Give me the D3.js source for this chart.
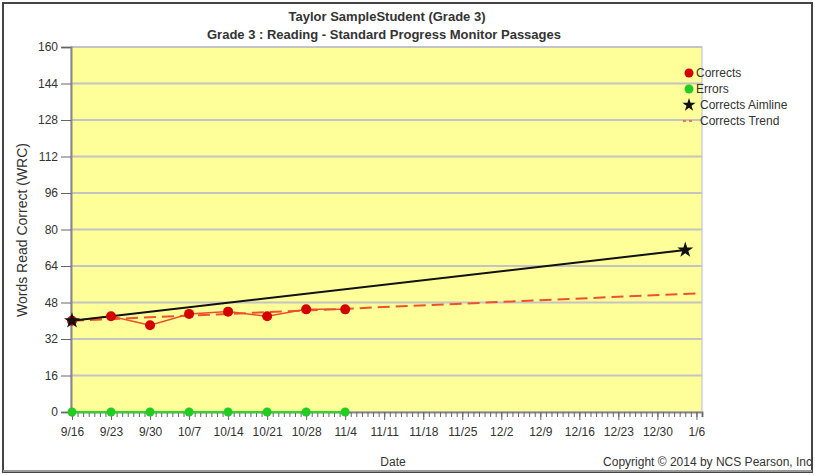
<!DOCTYPE html>
<html>
<head>
<meta charset="utf-8">
<script src="https://cdn.jsdelivr.net/npm/d3@7"></script>
<style>
  body { margin: 0; background: #fff; }
  text { font-family: "Liberation Sans Narrow", "Liberation Sans", Arial, sans-serif; fill: #333; }
</style>
</head>
<body>
<svg width="815" height="475"></svg>
<script>
// chart values
const weeks = ["2013-09-16","2013-09-23","2013-09-30","2013-10-07","2013-10-14","2013-10-21","2013-10-28","2013-11-04"];
const corrects = [40, 42, 38, 43, 44, 42, 45, 45];
const errors = [0, 0, 0, 0, 0, 0, 0, 0];
const aimDates = ["2013-09-16", "2014-01-04"];
const aimValues = [40, 71];
const trendDates = ["2013-09-16", "2014-01-06"];
const trendValues = [40, 52];
const yTicks = [0, 16, 32, 48, 64, 80, 96, 112, 128, 144, 160];
const legendNames = ["Corrects", "Errors", "Corrects Aimline", "Corrects Trend"];

const parse = d3.timeParse("%Y-%m-%d");
const svg = d3.select("svg");

// outer frame
svg.append("rect").attr("x", 3).attr("y", 3).attr("width", 809).attr("height", 469)
  .attr("fill", "none").attr("stroke", "#444").attr("stroke-width", 2);
svg.append("line").attr("x1", 3).attr("x2", 812).attr("y1", 471).attr("y2", 471)
  .attr("stroke", "#999").attr("stroke-width", 2);

const pLeft = 71, pRight = 702, pTop = 47, pBottom = 412;

const x = d3.scaleTime()
  .domain([parse("2013-09-16"), parse("2014-01-07")])
  .range([pLeft + 1, pRight]);
const y = d3.scaleLinear().domain([0, 160]).range([pBottom, pTop]);

// plot background
svg.append("rect").attr("x", pLeft).attr("y", pTop)
  .attr("width", pRight - pLeft).attr("height", pBottom - pTop)
  .attr("fill", "#ffff99").attr("stroke", "#b8b8e0").attr("stroke-width", 1);

// grid
svg.append("g")
  .selectAll("line").data(yTicks.filter(v => v > 0)).enter().append("line")
  .attr("x1", pLeft).attr("x2", pRight)
  .attr("y1", d => y(d)).attr("y2", d => y(d))
  .attr("stroke", "#c4c4c4").attr("stroke-width", 2);

// y axis
const yAxis = svg.append("g").attr("transform", `translate(${pLeft},0)`)
  .call(d3.axisLeft(y).tickValues(yTicks).tickSize(10).tickPadding(3));
yAxis.select(".domain").attr("stroke", "#888").attr("stroke-width", 2);
yAxis.selectAll(".tick line").attr("stroke", "#666");
yAxis.selectAll("text").attr("font-size", 12).attr("fill", "#333")
  .attr("font-family", "'Liberation Sans Narrow', Arial, sans-serif");

// x axis: daily minor ticks, weekly labelled ticks
const xMinor = svg.append("g").attr("transform", `translate(0,${pBottom})`)
  .call(d3.axisBottom(x).ticks(d3.timeDay.every(1)).tickSize(5).tickFormat(""));
xMinor.select(".domain").attr("stroke", "#888").attr("stroke-width", 2);
xMinor.selectAll(".tick line").attr("stroke", "#666");

const xAxis = svg.append("g").attr("transform", `translate(0,${pBottom})`)
  .call(d3.axisBottom(x).ticks(d3.timeMonday.every(1)).tickSize(8).tickPadding(7)
    .tickFormat(d3.timeFormat("%-m/%-d")));
xAxis.select(".domain").remove();
xAxis.selectAll(".tick line").attr("stroke", "#666");
xAxis.selectAll("text").attr("font-size", 12).attr("fill", "#333")
  .attr("font-family", "'Liberation Sans Narrow', Arial, sans-serif");

// errors
const errPts = weeks.map((w, i) => [parse(w), errors[i]]);
svg.append("path").datum(errPts)
  .attr("d", d3.line().x(d => x(d[0])).y(d => y(d[1])))
  .attr("fill", "none").attr("stroke", "#22dd22").attr("stroke-width", 2);
svg.append("g").selectAll("circle").data(errPts).enter().append("circle")
  .attr("cx", d => x(d[0])).attr("cy", d => y(d[1])).attr("r", 4.5)
  .attr("fill", "#22cc22");

// trend
svg.append("path").datum(trendDates.map((d, i) => [parse(d), trendValues[i]]))
  .attr("d", d3.line().x(d => x(d[0])).y(d => y(d[1])))
  .attr("fill", "none").attr("stroke", "#f0502e").attr("stroke-width", 2)
  .attr("stroke-dasharray", "12,6");

// corrects
const corPts = weeks.map((w, i) => [parse(w), corrects[i]]);
svg.append("path").datum(corPts)
  .attr("d", d3.line().x(d => x(d[0])).y(d => y(d[1])))
  .attr("fill", "none").attr("stroke", "#e8502a").attr("stroke-width", 1.5);

// aimline
const aimPts = aimDates.map((d, i) => [parse(d), aimValues[i]]);
svg.append("path").datum(aimPts)
  .attr("d", d3.line().x(d => x(d[0])).y(d => y(d[1])))
  .attr("fill", "none").attr("stroke", "#111").attr("stroke-width", 2);

svg.append("g").selectAll("circle").data(corPts).enter().append("circle")
  .attr("cx", d => x(d[0])).attr("cy", d => y(d[1])).attr("r", 5)
  .attr("fill", "#d40000");

const star = d3.symbol().type(d3.symbolStar);
svg.append("g").selectAll("path").data(aimPts).enter().append("path")
  .attr("d", star.size(80))
  .attr("transform", d => `translate(${x(d[0])},${y(d[1])})`)
  .attr("fill", "#111");

// legend
const lg = svg.append("g").attr("transform", "translate(689,73)");
legendNames.forEach((name, i) => {
  const row = lg.append("g").attr("transform", `translate(0,${i * 16})`);
  if (i === 0 || i === 1) {
    row.append("circle").attr("r", 4.5).attr("fill", i === 0 ? "#d40000" : "#22cc22");
  } else if (i === 2) {
    row.append("path").attr("d", star.size(55)).attr("fill", "#111");
  } else {
    row.append("line").attr("x1", -6).attr("x2", 6).attr("y1", 0).attr("y2", 0)
      .attr("stroke", "#f0502e").attr("stroke-width", 1.5).attr("stroke-dasharray", "3,3");
  }
  row.append("text").attr("x", i < 2 ? 7 : 11).attr("y", 4).attr("font-size", 12).text(name);
});

// titles
svg.append("text").attr("x", 387).attr("y", 21).attr("text-anchor", "middle")
  .attr("font-size", 13).attr("font-weight", "bold").text("Taylor SampleStudent (Grade 3)");
svg.append("text").attr("x", 384).attr("y", 39).attr("text-anchor", "middle")
  .attr("font-size", 13).attr("font-weight", "bold").text("Grade 3 : Reading - Standard Progress Monitor Passages");

// axis labels
svg.append("text").attr("transform", "translate(27,230) rotate(-90)")
  .attr("text-anchor", "middle").attr("font-size", 14)
  .attr("font-family", "'Liberation Sans', Arial, sans-serif").text("Words Read Correct (WRC)");
svg.append("text").attr("x", 393).attr("y", 466).attr("text-anchor", "middle")
  .attr("font-size", 12).text("Date");
svg.append("text").attr("x", 812).attr("y", 466).attr("text-anchor", "end")
  .attr("font-size", 12).text("Copyright © 2014 by NCS Pearson, Inc");
</script>
</body>
</html>
